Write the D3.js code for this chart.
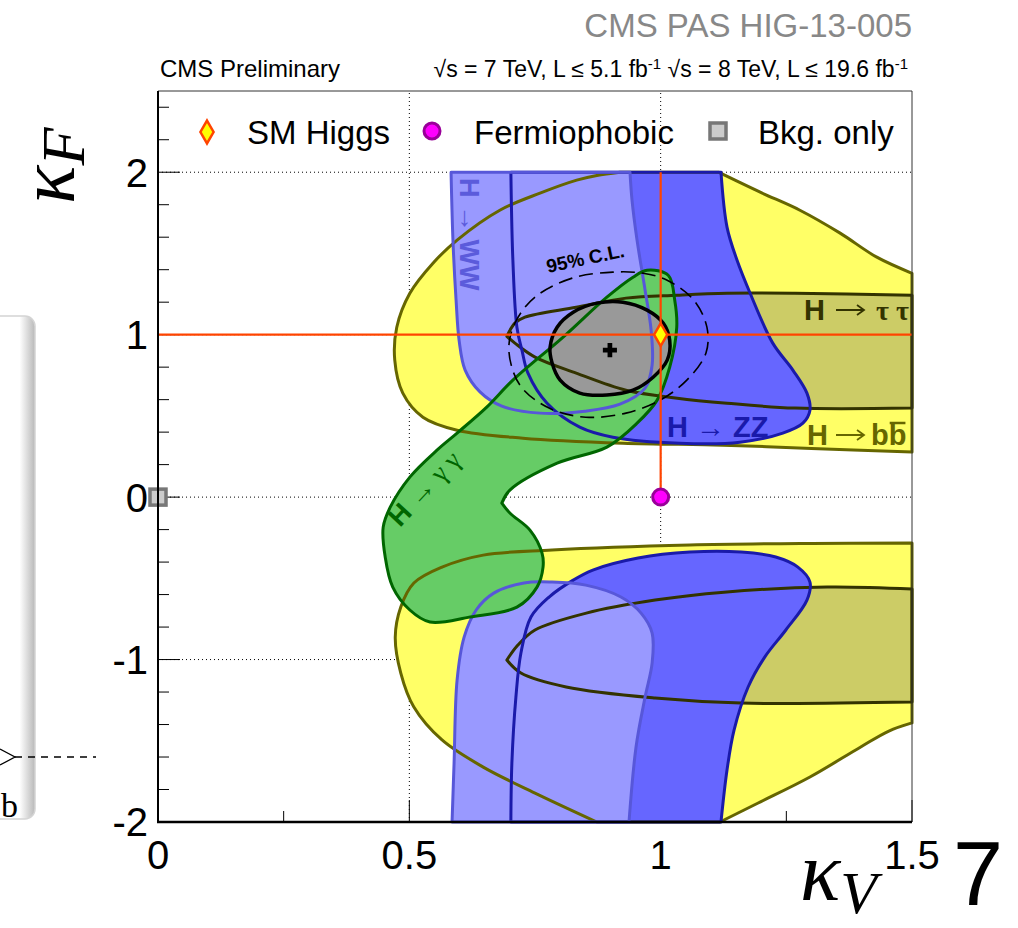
<!DOCTYPE html>
<html>
<head>
<meta charset="utf-8">
<script src="https://cdn.jsdelivr.net/npm/d3@7"></script>
<style>
  body { margin: 0; background: #fff; }
  svg { display: block; }
  text { font-family: "Liberation Sans", Arial, sans-serif; }
</style>
</head>
<body>
<svg id="chart" width="1018" height="928"></svg>
<script>
// contour points are [kappaV, kappaF]; each contour is a list of smooth runs,
// consecutive runs are joined by straight segments (plot edges)
var bbUpper = [
  [[0.919, 2], [0.873, 1.98], [0.833, 1.951], [0.760, 1.871], [0.680, 1.766], [0.595, 1.582], [0.547, 1.44],
   [0.501, 1.255], [0.475, 1.046], [0.471, 0.843], [0.487, 0.640], [0.527, 0.492], [0.595, 0.412], [0.726, 0.363],
   [0.925, 0.332], [1.124, 0.320], [1.3, 0.3], [1.5, 0.277]],
  [[1.5, 1.378], [1.430, 1.477], [1.357, 1.625], [1.277, 1.766], [1.198, 1.877], [1.115, 2]]
];
var bbLower = [
  [[1.5, -0.283], [1.3, -0.285], [1.058, -0.295], [0.784, -0.326], [0.647, -0.357], [0.565, -0.431], [0.509, -0.529],
   [0.483, -0.677], [0.472, -0.862], [0.483, -1.083], [0.509, -1.292], [0.565, -1.495], [0.647, -1.662],
   [0.750, -1.822], [0.873, -2]],
  [[1.118, -2], [1.194, -1.883], [1.297, -1.723], [1.398, -1.538], [1.454, -1.44], [1.5, -1.39]]
];
var tautauUpper = [
  [[1.5, 1.243], [1.267, 1.255], [1.132, 1.255], [1.033, 1.243], [0.931, 1.225], [0.832, 1.169], [0.730, 1.108],
   [0.710, 1.071], [0.694, 0.99]],
  [[0.694, 0.99], [0.710, 0.948], [0.750, 0.862], [0.832, 0.763], [0.931, 0.658], [1.033, 0.609], [1.132, 0.578],
   [1.267, 0.548], [1.5, 0.548]]
];
var tautauLower = [
  [[1.5, -0.566], [1.331, -0.554], [1.126, -0.585], [0.989, -0.634], [0.852, -0.714], [0.750, -0.818],
   [0.716, -0.911], [0.694, -1.003]],
  [[0.694, -1.003], [0.722, -1.083], [0.812, -1.169], [0.989, -1.237], [1.160, -1.268], [1.5, -1.262]]
];
var zzUpper = [
  [[0.702, 2], [0.706, 1.458], [0.714, 1.046], [0.724, 0.905], [0.736, 0.763], [0.774, 0.578], [0.839, 0.431],
   [0.905, 0.369], [1.038, 0.332], [1.158, 0.338], [1.243, 0.394], [1.283, 0.455], [1.297, 0.535], [1.291, 0.64],
   [1.263, 0.782], [1.223, 0.948], [1.178, 1.255], [1.152, 1.458], [1.132, 1.662], [1.120, 2]]
];
var zzLower = [
  [[1.120, -2], [1.132, -1.68], [1.146, -1.434], [1.174, -1.169], [1.207, -0.985], [1.249, -0.818], [1.291, -0.634],
   [1.297, -0.523], [1.273, -0.431], [1.229, -0.369], [1.160, -0.338], [1.058, -0.338], [0.955, -0.375],
   [0.865, -0.449], [0.826, -0.511], [0.778, -0.615], [0.742, -0.738], [0.722, -0.96], [0.712, -1.231],
   [0.704, -1.637], [0.702, -2]]
];
var wwUpper = [
  [[0.583, 2], [0.587, 1.563], [0.593, 1.212], [0.599, 0.966], [0.611, 0.782], [0.641, 0.646], [0.684, 0.56],
   [0.760, 0.517], [0.849, 0.529], [0.919, 0.572], [0.969, 0.671], [0.983, 0.812], [0.981, 1.028], [0.969, 1.274],
   [0.953, 1.582], [0.943, 1.828], [0.939, 2]]
];
var wwLower = [
  [[0.937, -2], [0.951, -1.538], [0.969, -1.231], [0.983, -1.022], [0.983, -0.837], [0.961, -0.714], [0.921, -0.615],
   [0.851, -0.542], [0.784, -0.523], [0.728, -0.529], [0.668, -0.591], [0.633, -0.695], [0.609, -0.862],
   [0.595, -1.126], [0.589, -1.637], [0.585, -2]]
];
var gammagamma = [
  [[0.684, -0.037], [0.700, 0.043], [0.794, 0.209], [0.893, 0.308], [0.953, 0.455], [0.993, 0.597], [1.018, 0.8],
   [1.032, 1.046], [1.028, 1.212], [1.015, 1.366], [0.973, 1.397], [0.945, 1.354], [0.893, 1.231], [0.806, 0.985],
   [0.706, 0.72], [0.654, 0.554], [0.595, 0.394], [0.555, 0.289], [0.501, 0.123], [0.462, -0.062], [0.448, -0.185],
   [0.452, -0.369], [0.467, -0.554], [0.501, -0.695], [0.541, -0.769], [0.621, -0.738], [0.714, -0.677],
   [0.754, -0.554], [0.766, -0.431], [0.764, -0.345], [0.740, -0.203], [0.700, -0.098], [0.684, -0.037]]
];
// combined fit: 68% (filled) and 95% (dashed) contours, closed smooth
var cl68 = [[0.780, 0.923], [0.794, 1.046], [0.826, 1.138], [0.873, 1.194], [0.925, 1.2], [0.973, 1.151],
  [1.005, 1.071], [1.018, 0.966], [1.013, 0.843], [0.985, 0.738], [0.945, 0.658], [0.893, 0.628], [0.839, 0.64],
  [0.800, 0.72], [0.784, 0.825]];
var cl95 = [[0.905, 1.385], [0.824, 1.348], [0.750, 1.231], [0.710, 1.071], [0.698, 0.905], [0.720, 0.689],
  [0.778, 0.548], [0.851, 0.492], [0.931, 0.517], [0.999, 0.597], [1.052, 0.72], [1.090, 0.886], [1.092, 1.046],
  [1.066, 1.212], [1.013, 1.335], [0.965, 1.378]];

var bestFit = [0.899, 0.905];
var smHiggs = [1, 1];
var fermiophobic = [1, 0];
var bkgOnly = [0, 0];

var xTicks = [0, 0.25, 0.5, 0.75, 1, 1.25, 1.5];
var xTickLabels = ['0', '0.5', '1', '1.5'];
var xLabelVals = [0, 0.5, 1, 1.5];
var yLabelVals = [-2, -1, 0, 1, 2];
var yTickLabels = ['-2', '-1', '0', '1', '2'];
var gridV = [0.5, 1];
var gridH = [-1, 0, 1, 2];

var svg = d3.select('#chart');
var x = d3.scaleLinear().domain([0, 1.5]).range([158, 912]);
var y = d3.scaleLinear().domain([-2, 2.5]).range([822, 91]);

var openGen = d3.line().x(function (d) { return x(d[0]); }).y(function (d) { return y(d[1]); })
  .curve(d3.curveCatmullRom.alpha(0.5));
var closedGen = d3.line().x(function (d) { return x(d[0]); }).y(function (d) { return y(d[1]); })
  .curve(d3.curveCatmullRomClosed.alpha(0.5));

function runsPath(runs) {
  return runs.map(function (r, i) {
    var s = openGen(r);
    return i === 0 ? s : 'L' + s.slice(1);
  }).join('') + 'Z';
}

// left slide leftover (rounded box)
var defs = svg.append('defs');
var gr = defs.append('linearGradient').attr('id', 'shade').attr('x1', 0).attr('x2', 1);
gr.append('stop').attr('offset', '0.72').attr('stop-color', '#fff');
gr.append('stop').attr('offset', '1').attr('stop-color', '#b8b8b8');
svg.append('rect').attr('x', -20).attr('y', 316).attr('width', 55).attr('height', 503).attr('rx', 10)
  .attr('fill', 'url(#shade)').attr('stroke', '#d4d4d4').attr('stroke-width', 1.5);
svg.append('path').attr('d', 'M0,749L15,757L0,765').attr('fill', 'none').attr('stroke', '#000').attr('stroke-width', 1.3);
svg.append('line').attr('x1', 15).attr('x2', 96).attr('y1', 757).attr('y2', 757)
  .attr('stroke', '#000').attr('stroke-width', 1.3).attr('stroke-dasharray', '7,6');
svg.append('text').attr('x', 1).attr('y', 817).style('font-family', '"Liberation Serif", serif')
  .style('font-size', '34px').text('b');

// grid
var grid = svg.append('g');
grid.selectAll('line.gv').data(gridV).join('line').attr('class', 'gv')
  .attr('x1', function (d) { return x(d); }).attr('x2', function (d) { return x(d); })
  .attr('y1', y(-2)).attr('y2', y(2.5));
grid.selectAll('line.gh').data(gridH).join('line').attr('class', 'gh')
  .attr('x1', x(0)).attr('x2', x(1.5))
  .attr('y1', function (d) { return y(d); }).attr('y2', function (d) { return y(d); });
grid.selectAll('line').attr('stroke', '#000').attr('stroke-width', 1).attr('stroke-dasharray', '1,3');

// ticks
var yTicks = d3.range(0, 23).map(function (i) { return -2 + i * 0.2; });
svg.append('g').selectAll('line').data(yTicks).join('line')
  .attr('x1', x(0)).attr('x2', function (d) { return x(0) + (Math.abs(d - Math.round(d)) < 1e-6 ? 22 : 11); })
  .attr('y1', function (d) { return y(d); }).attr('y2', function (d) { return y(d); })
  .attr('stroke', '#000').attr('stroke-width', 1);
svg.append('g').selectAll('line').data(xTicks).join('line')
  .attr('x1', function (d) { return x(d); }).attr('x2', function (d) { return x(d); })
  .attr('y1', y(-2)).attr('y2', function (d) { return y(-2) - (d % 0.5 === 0 ? 22 : 11); })
  .attr('stroke', '#000').attr('stroke-width', 1);

// contours
var layers = [
  { d: runsPath(bbUpper), fill: '#ffff66', stroke: '#666600', w: 3 },
  { d: runsPath(bbLower), fill: '#ffff66', stroke: '#666600', w: 3 },
  { d: runsPath(tautauUpper), fill: '#cccc66', stroke: '#333300', w: 3 },
  { d: runsPath(tautauLower), fill: '#cccc66', stroke: '#333300', w: 3 },
  { d: runsPath(zzUpper), fill: '#6666ff', stroke: '#1a1aaa', w: 3 },
  { d: runsPath(zzLower), fill: '#6666ff', stroke: '#1a1aaa', w: 3 },
  { d: runsPath(wwUpper), fill: '#9999ff', stroke: '#5757d9', w: 3 },
  { d: runsPath(wwLower), fill: '#9999ff', stroke: '#5757d9', w: 3 },
  { d: runsPath(gammagamma), fill: '#66cc66', stroke: '#006600', w: 3 },
  { d: closedGen(cl68), fill: '#999999', stroke: '#000', w: 3.5 }
];
svg.append('g').selectAll('path').data(layers).join('path')
  .attr('d', function (d) { return d.d; }).attr('fill', function (d) { return d.fill; }).attr('stroke', 'none');
svg.append('g').selectAll('path').data(layers).join('path')
  .attr('d', function (d) { return d.d; }).attr('fill', 'none')
  .attr('stroke', function (d) { return d.stroke; }).attr('stroke-width', function (d) { return d.w; })
  .attr('stroke-linejoin', 'round');
svg.append('path').attr('d', closedGen(cl95)).attr('fill', 'none').attr('stroke', '#000')
  .attr('stroke-width', 1.6).attr('stroke-dasharray', '14,7');

// SM reference lines
svg.append('line').attr('x1', x(0)).attr('x2', x(1.5)).attr('y1', y(smHiggs[1])).attr('y2', y(smHiggs[1]))
  .attr('stroke', '#ff4400').attr('stroke-width', 2.2);
svg.append('line').attr('x1', x(smHiggs[0])).attr('x2', x(smHiggs[0])).attr('y1', y(2)).attr('y2', y(fermiophobic[1]))
  .attr('stroke', '#ff4400').attr('stroke-width', 2.2);

// in-plot labels
svg.append('text').attr('transform', 'translate(460,178) rotate(90)')
  .style('font-size', '27px').style('font-weight', 'bold').attr('fill', '#5b5bdb').text('H \u2192 WW');
svg.append('text').attr('x', 667).attr('y', 437)
  .style('font-size', '29px').style('font-weight', 'bold').attr('fill', '#1a1aaa').text('H \u2192 ZZ');
function decayLabel(x0, yb, col, rest, xArrow, xRest, restSerif) {
  var g = svg.append('g').attr('fill', col);
  g.append('text').attr('x', x0).attr('y', yb).style('font-size', '29px').style('font-weight', 'bold').text('H');
  // long thin arrow
  var ya = yb - 10;
  g.append('path').attr('d', 'M' + xArrow + ',' + ya + 'H' + (xArrow + 27) +
      'M' + (xArrow + 21) + ',' + (ya - 5) + 'L' + (xArrow + 28) + ',' + ya + 'L' + (xArrow + 21) + ',' + (ya + 5))
    .attr('fill', 'none').attr('stroke', col).attr('stroke-width', 1.8);
  var t = g.append('text').attr('x', xRest).attr('y', yb).style('font-size', restSerif ? '28px' : '29px');
  if (restSerif) t.style('font-family', '"Liberation Serif", serif').style('font-weight', 'bold');
  else t.style('font-weight', 'bold');
  t.text(rest);
  return t;
}
decayLabel(804, 320, '#333300', '\u03c4 \u03c4', 836, 876, true);
var bbt = decayLabel(807, 445, '#666600', 'bb', 836, 871, false);
var nb = bbt.node();
var last = nb.getExtentOfChar(nb.getNumberOfChars() - 1);
svg.append('line').attr('x1', last.x + 1).attr('x2', last.x + last.width - 1)
  .attr('y1', last.y + 4).attr('y2', last.y + 4).attr('stroke', '#666600').attr('stroke-width', 2.5);
var gg = svg.append('text').attr('transform', 'translate(400,528) rotate(-47)').attr('fill', '#006600')
  .style('font-size', '27px');
gg.append('tspan').style('font-weight', 'bold').text('H ');
gg.append('tspan').style('font-family', '"Liberation Serif", serif').text('\u2192 \u03b3 \u03b3');
svg.append('text').attr('transform', 'translate(548,273) rotate(-12)')
  .style('font-size', '19px').style('font-weight', 'bold').text('95% C.L.');

// markers
svg.append('path').attr('transform', 'translate(' + x(bestFit[0]) + ',' + y(bestFit[1]) + ')')
  .attr('d', d3.symbol(d3.symbolCross, 110)()).attr('fill', '#000');
function diamond(g, cx, cy) {
  g.append('path').attr('transform', 'translate(' + cx + ',' + cy + ')')
    .attr('d', d3.symbol(d3.symbolDiamond, 150)()).attr('fill', '#ffff00')
    .attr('stroke', '#ff4400').attr('stroke-width', 2.5);
}
function dot(g, cx, cy) {
  g.append('circle').attr('cx', cx).attr('cy', cy).attr('r', 8)
    .attr('fill', '#ff00ff').attr('stroke', '#990099').attr('stroke-width', 3);
}
function box(g, cx, cy) {
  g.append('rect').attr('x', cx - 8).attr('y', cy - 8).attr('width', 16).attr('height', 16)
    .attr('fill', '#cccccc').attr('stroke', '#777777').attr('stroke-width', 3.5);
}
diamond(svg, x(smHiggs[0]), y(smHiggs[1]));
dot(svg, x(fermiophobic[0]), y(fermiophobic[1]));
box(svg, x(bkgOnly[0]), y(bkgOnly[1]));

// legend
var leg = svg.append('g');
diamond(leg, 207, 132);
dot(leg, 432, 131);
box(leg, 718, 131);
var legTxt = [['SM Higgs', 247], ['Fermiophobic', 474], ['Bkg. only', 758]];
leg.selectAll('text').data(legTxt).join('text')
  .attr('x', function (d) { return d[1]; }).attr('y', 144)
  .style('font-size', '33px').text(function (d) { return d[0]; });

// frame
svg.append('line').attr('x1', x(0)).attr('x2', x(1.5)).attr('y1', y(2.5)).attr('y2', y(2.5)).attr('stroke', '#333').attr('stroke-width', 1);
svg.append('line').attr('x1', x(1.5)).attr('x2', x(1.5)).attr('y1', y(2.5)).attr('y2', y(-2)).attr('stroke', '#333').attr('stroke-width', 1);
svg.append('line').attr('x1', x(0)).attr('x2', x(0)).attr('y1', y(2.5)).attr('y2', y(-2) + 1).attr('stroke', '#000').attr('stroke-width', 2);
svg.append('line').attr('x1', x(0) - 1).attr('x2', x(1.5)).attr('y1', y(-2)).attr('y2', y(-2)).attr('stroke', '#000').attr('stroke-width', 2.5);

// tick labels
svg.append('g').selectAll('text').data(yLabelVals).join('text')
  .attr('x', 148).attr('y', function (d) { return y(d); }).attr('dy', '0.36em')
  .attr('text-anchor', 'end').style('font-size', '40px')
  .text(function (d, i) { return yTickLabels[i]; });
svg.append('g').selectAll('text').data(xLabelVals).join('text')
  .attr('x', function (d) { return x(d); }).attr('y', 869)
  .attr('text-anchor', 'middle').style('font-size', '40px')
  .text(function (d, i) { return xTickLabels[i]; });

// axis titles
var yt = svg.append('text').attr('transform', 'translate(74,204) rotate(-90)')
  .style('font-family', '"Liberation Serif", serif').style('font-style', 'italic');
yt.append('tspan').style('font-size', '80px').text('\u03ba');
yt.append('tspan').attr('dy', 10).style('font-size', '62px').text('F');
var xt = svg.append('text').attr('x', 800).attr('y', 900)
  .style('font-family', '"Liberation Serif", serif').style('font-style', 'italic');
xt.append('tspan').style('font-size', '84px').text('\u03ba');
xt.append('tspan').attr('dy', 13).style('font-size', '60px').text('V');

// header texts
svg.append('text').attr('x', 912).attr('y', 37).attr('text-anchor', 'end')
  .style('font-size', '33px').attr('fill', '#888').text('CMS PAS HIG-13-005');
svg.append('text').attr('x', 160).attr('y', 77).style('font-size', '24px').text('CMS Preliminary');
var en = svg.append('text').attr('x', 908).attr('y', 77).attr('text-anchor', 'end').style('font-size', '23px');
en.append('tspan').text('\u221as = 7 TeV, L \u2264 5.1 fb');
en.append('tspan').attr('dy', -8).style('font-size', '15px').text('-1');
en.append('tspan').attr('dy', 8).text('  \u221as = 8 TeV, L \u2264 19.6 fb');
en.append('tspan').attr('dy', -8).style('font-size', '15px').text('-1');

// slide page number
svg.append('text').attr('x', 953).attr('y', 905).style('font-size', '90px').text('7');
</script>
</body>
</html>
